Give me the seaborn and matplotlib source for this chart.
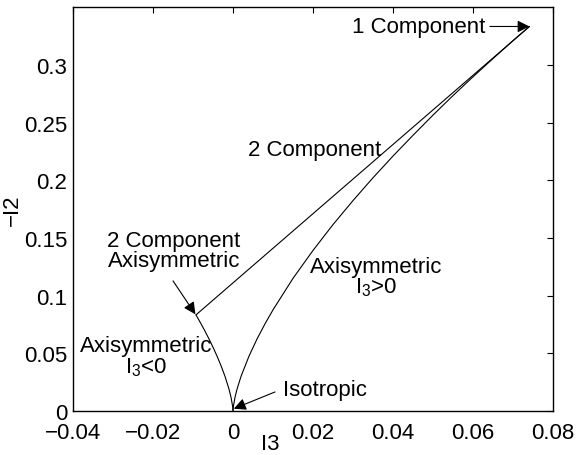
import matplotlib
matplotlib.use("Agg")
import matplotlib.pyplot as plt
import seaborn as sns
import pandas as pd

# Lumley triangle boundaries
neg_i3 = [0, -0.0001, -0.0005, -0.001, -0.002, -0.003, -0.004, -0.005, -0.006, -0.007, -0.008, -0.009, -0.00926]
neg_i2 = [0, 0.0041, 0.0119, 0.0189, 0.0300, 0.0393, 0.0476, 0.0553, 0.0624, 0.0692, 0.0756, 0.0818, 0.0833]

pos_i3 = [0, 0.0001, 0.0005, 0.001, 0.002, 0.004, 0.006, 0.008, 0.01, 0.015, 0.02, 0.025, 0.03,
          0.035, 0.04, 0.045, 0.05, 0.055, 0.06, 0.065, 0.07, 0.0741]
pos_i2 = [0, 0.0041, 0.0119, 0.0189, 0.0300, 0.0476, 0.0624, 0.0756, 0.0877, 0.1150, 0.1392, 0.1616, 0.1824,
          0.2022, 0.2210, 0.2390, 0.2565, 0.2734, 0.2897, 0.3055, 0.3210, 0.3333]

two_comp_i3 = [-0.00926, 0.0741]
two_comp_i2 = [0.0833, 0.3333]

xticks = [-0.04, -0.02, 0, 0.02, 0.04, 0.06, 0.08]
xtick_labels = ["\u22120.04", "\u22120.02", "0", "0.02", "0.04", "0.06", "0.08"]
yticks = [0, 0.05, 0.1, 0.15, 0.2, 0.25, 0.3]
ytick_labels = ["0", "0.05", "0.1", "0.15", "0.2", "0.25", "0.3"]

sns.set_style("white", {"xtick.direction": "in", "ytick.direction": "in"})
plt.rcParams["font.family"] = ["Liberation Sans", "DejaVu Sans"]
plt.rcParams["font.size"] = 16
plt.rcParams["text.color"] = "black"
plt.rcParams["xtick.color"] = "black"
plt.rcParams["ytick.color"] = "black"
plt.rcParams["axes.labelcolor"] = "black"

fs = 16

fig = plt.figure(figsize=(5.84, 4.56), dpi=100)
ax = fig.add_axes([0.125, 0.0965, 0.822, 0.8855])

for xs, ys in [(neg_i3, neg_i2), (pos_i3, pos_i2), (two_comp_i3, two_comp_i2)]:
    d = pd.DataFrame({"I3": xs, "I2": ys})
    sns.lineplot(data=d, x="I3", y="I2", sort=False, color="black", linewidth=0.8, ax=ax)

ax.set_xlim(-0.04, 0.08)
ax.set_ylim(0, 0.35)
ax.set_xticks(xticks)
ax.set_xticklabels(xtick_labels, fontsize=fs)
ax.set_yticks(yticks)
ax.set_yticklabels(ytick_labels, fontsize=fs)
ax.tick_params(which="both", direction="in", top=True, right=True, length=4, width=0.8)
ax.tick_params(axis="x", pad=8)
ax.tick_params(axis="y", pad=4)
for s in ax.spines.values():
    s.set_linewidth(1.0)
    s.set_color("black")

ax.set_xlabel("I3", fontsize=fs)
ax.set_ylabel("\u2212I2", fontsize=fs)
ax.xaxis.set_label_coords(0.41, -0.054)
ax.yaxis.set_label_coords(-0.105, 0.5)

arrow = dict(arrowstyle="-|>", color="black", lw=0.8, mutation_scale=18, shrinkA=0, shrinkB=0)

ax.text(0.0632, 0.3333, "1 Component", ha="right", va="center", fontsize=fs)
ax.annotate("", xy=(0.0741, 0.3333), xytext=(0.0642, 0.3333), arrowprops=arrow)
ax.text(0.0203, 0.227, "2 Component", ha="center", va="center", fontsize=fs)
ax.text(-0.0148, 0.139, "2 Component\nAxisymmetric", ha="center", va="center",
        linespacing=0.95, fontsize=fs)
ax.annotate("", xy=(-0.0094, 0.0838), xytext=(-0.015, 0.1128), arrowprops=arrow)
ax.text(-0.0218, 0.0473, "Axisymmetric\n$\\mathregular{I_3}$<0", ha="center", va="center",
        linespacing=0.95, fontsize=fs)
ax.text(0.0358, 0.1162, "Axisymmetric\n$\\mathregular{I_3}$>0", ha="center", va="center",
        linespacing=0.95, fontsize=fs)
ax.text(0.0125, 0.019, "Isotropic", ha="left", va="center", fontsize=fs)
ax.annotate("", xy=(0.0002, 0.002), xytext=(0.0105, 0.0165), arrowprops=arrow)

fig.savefig("out.png", dpi=100)
